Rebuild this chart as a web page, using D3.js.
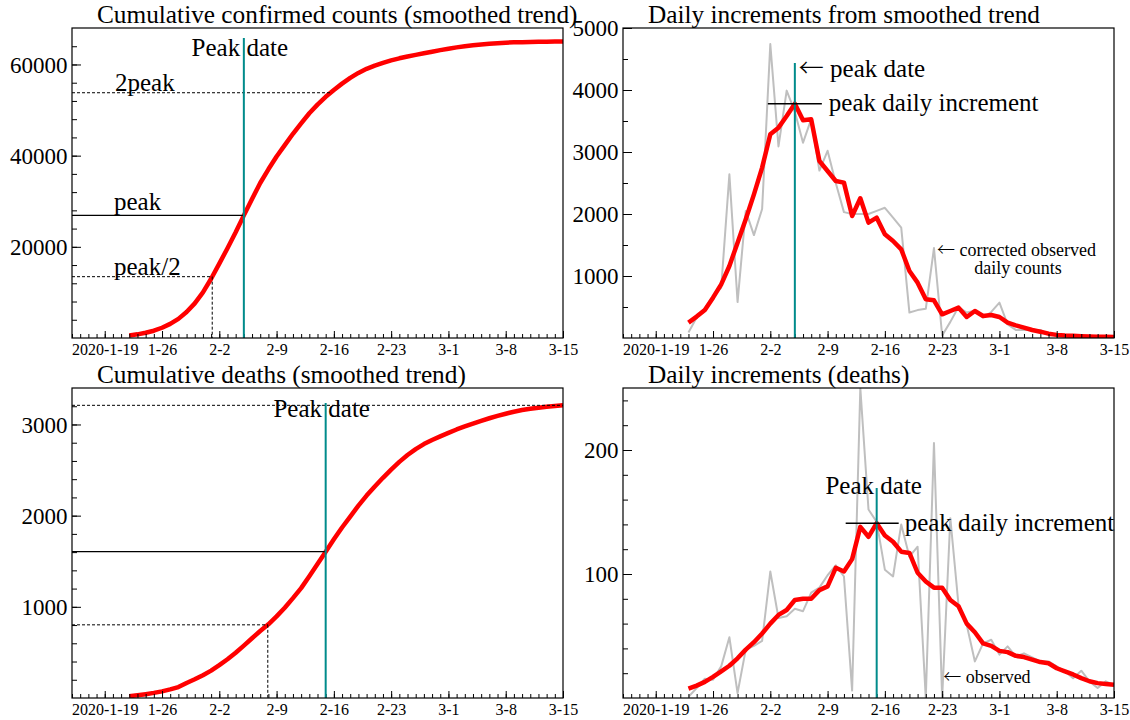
<!DOCTYPE html>
<html>
<head>
<meta charset="utf-8">
<script src="https://cdn.jsdelivr.net/npm/d3@7"></script>
<style>
  body { margin: 0; background: #fff; }
  svg { display: block; font-family: "Liberation Serif", "Times New Roman", serif; }
  .arrow { font-family: "Noto Sans CJK SC", "DejaVu Sans", sans-serif; font-weight: 300; }
</style>
</head>
<body>
<div id="chart"></div>
<script>
const parseDay = d3.timeParse("%Y-%m-%d");

// shared date axis
const axisStart = "2020-01-15";
const axisEnd = "2020-03-15";
const tickDates = ["2020-01-19", "2020-01-26", "2020-02-02", "2020-02-09", "2020-02-16",
                   "2020-02-23", "2020-03-01", "2020-03-08", "2020-03-15"];
const tickLabels = ["2020-1-19", "1-26", "2-2", "2-9", "2-16", "2-23", "3-1", "3-8", "3-15"];

// confirmed cases
const confirmedCumStart = "2020-01-22";
const confirmedCum = [550, 800, 1150, 1600, 2250, 3100, 4200, 5700, 7600, 10000, 13000, 16300,
  19700, 23200, 26900, 30500, 34000, 37000, 39800, 42300, 44800, 47100, 49300, 51200, 52900,
  54400, 55800, 57050, 58150, 59050, 59750, 60350, 60900, 61350, 61750, 62100, 62450, 62800,
  63150, 63450, 63750, 64000, 64200, 64400, 64550, 64680, 64780, 64850, 64900, 64940, 64970,
  65000, 65020, 65040];
const confirmedDailyStart = "2020-01-23";
const confirmedDaily = [248, 345, 452, 650, 866, 1161, 1538, 1914, 2317, 2748, 3285, 3393, 3580,
  3780, 3511, 3527, 2855, 2694, 2532, 2506, 1968, 2253, 1861, 1941, 1672, 1565, 1430, 1081, 893,
  624, 608, 382, 436, 490, 339, 436, 355, 371, 339, 248, 205, 167, 129, 102, 70, 50, 40, 35, 30,
  25, 22, 20, 18];
const confirmedObserved = [90, 330, 480, 680, 810, 2640, 580, 2050, 1660, 2080, 4740, 3090, 3990,
  3650, 3150, 3530, 2700, 3020, 2500, 2030, 2000, 2000, 2000, 2050, 2100, 1940, 1780, 410, 450,
  470, 1450, 40, 260, 500, 410, 440, 330, 420, 570, 220, 130, 130, 130, 130, 60, 40, 30, 30, 25,
  20, 20, 20, 20];
const confirmedPeakDate = "2020-02-05";
const confirmedSpikeDate = "2020-02-22";

// deaths
const deathsCumStart = "2020-01-22";
const deathsCum = [20, 30, 42, 56, 73, 94, 120, 165, 205, 250, 300, 360, 425, 497, 575, 655, 735,
  808, 895, 990, 1095, 1205, 1335, 1470, 1605, 1740, 1870, 1990, 2110, 2220, 2320, 2415, 2505,
  2590, 2665, 2730, 2785, 2830, 2870, 2908, 2945, 2978, 3010, 3040, 3068, 3094, 3118, 3140,
  3158, 3172, 3184, 3194, 3202, 3210];
const deathsDailyStart = "2020-01-23";
const deathsDaily = [7.5, 10, 13, 17, 21.5, 26, 32, 39, 45, 52, 60, 67, 71, 79, 80, 80, 87, 90,
  105, 102, 112, 138, 130, 141, 131, 126, 118, 117, 101, 94, 89, 89, 79, 74, 60, 53, 44, 42, 38,
  37, 34, 33, 31, 29, 28, 24, 21.5, 19, 16, 13.5, 12, 11.3, 10.7];
const deathsObserved = [1, 8, 15.6, 14.8, 25.5, 49, 4, 39, 42, 46, 102, 64.5, 66, 72, 70, 85, 89,
  99, 107, 98, 6, 250, 152, 142, 103.5, 98, 140, 114, 122, 0, 205.6, 0, 145, 75, 59, 29.5, 44,
  47, 35, 41.6, 33.5, 36, 32.7, 29.5, 29.5, 25.5, 21.5, 16, 22, 13.4, 8, 13.4, 10.7];
const deathsPeakDate = "2020-02-15";
const deathsObservedNote = "2020-02-23";

const RED = "#ff0000", GRAY = "#bfbfbf", TEAL = "#008b8b";

const svg = d3.select("#chart").append("svg")
    .attr("width", 1130)
    .attr("height", 720);
svg.append("rect").attr("width", 1130).attr("height", 720).attr("fill", "#fff");

function dayIndexed(start, values) {
    const s = parseDay(start);
    return values.map((v, i) => ({ date: d3.timeDay.offset(s, i), value: v }));
}

function valueOn(start, values, day) {
    const i = d3.timeDay.count(parseDay(start), parseDay(day));
    return values[i];
}

class Panel {

    constructor(left, top, right, bottom, yMax, yLabelStep, yMinorStep, title) {
        this.left = left;
        this.top = top;
        this.right = right;
        this.bottom = bottom;
        this.yMax = yMax;
        this.yLabelStep = yLabelStep;
        this.yMinorStep = yMinorStep;
        this.title = title;
    }

    initialize(id) {
        this.x = d3.scaleTime()
            .domain([parseDay(axisStart), parseDay(axisEnd)])
            .range([this.left, this.right]);
        this.y = d3.scaleLinear()
            .domain([0, this.yMax])
            .range([this.bottom, this.top]);

        const g = svg.append("g");
        this.g = g;

        svg.append("clipPath").attr("id", id)
            .append("rect")
            .attr("x", this.left).attr("y", this.top)
            .attr("width", this.right - this.left).attr("height", this.bottom - this.top);
        this.plot = g.append("g").attr("clip-path", `url(#${id})`);

        // daily ticks, then weekly labelled ones
        const xMinor = g.append("g")
            .attr("transform", `translate(0,${this.bottom})`)
            .call(d3.axisBottom(this.x).ticks(d3.timeDay.every(1)).tickSize(-4).tickSizeOuter(0).tickFormat(""));
        const xMajor = g.append("g")
            .attr("transform", `translate(0,${this.bottom})`)
            .call(d3.axisBottom(this.x)
                .tickValues(tickDates.map(parseDay))
                .tickSize(-7).tickSizeOuter(0).tickPadding(5.5)
                .tickFormat((d, i) => tickLabels[i]));
        xMajor.selectAll("text").attr("font-size", 16);

        const minorVals = d3.range(this.yMinorStep, this.yMax, this.yMinorStep);
        const labelVals = d3.range(this.yLabelStep, this.yMax + 1, this.yLabelStep);
        const yMinor = g.append("g")
            .attr("transform", `translate(${this.left},0)`)
            .call(d3.axisLeft(this.y).tickValues(minorVals).tickSize(-5).tickSizeOuter(0).tickFormat(""));
        const yMajor = g.append("g")
            .attr("transform", `translate(${this.left},0)`)
            .call(d3.axisLeft(this.y).tickValues(labelVals).tickSize(-9).tickSizeOuter(0).tickPadding(4.5)
                .tickFormat(d3.format("d")));
        yMajor.selectAll("text").attr("font-size", 23).attr("dy", "0.33em");

        [xMinor, xMajor, yMinor, yMajor].forEach(a => {
            a.attr("font-family", null);
            a.select(".domain").remove();
            a.selectAll("line").attr("stroke", "#000").attr("stroke-width", 1);
            a.selectAll("text").attr("fill", "#000");
        });

        g.append("text")
            .attr("x", this.left + 25)
            .attr("y", this.top - 5)
            .attr("font-size", 25.3)
            .text(this.title);
    }

    line(data, color, width) {
        this.plot.append("path")
            .datum(data)
            .attr("fill", "none")
            .attr("stroke", color)
            .attr("stroke-width", width)
            .attr("stroke-linejoin", "round")
            .attr("d", d3.line().x(d => this.x(d.date)).y(d => this.y(d.value)));
    }

    // x pixel where a rising series first reaches the target value
    crossing(data, target) {
        for (let i = 1; i < data.length; i++) {
            if (data[i].value >= target) {
                const a = data[i - 1], b = data[i];
                const t = (target - a.value) / (b.value - a.value);
                return this.x(a.date) + t * (this.x(b.date) - this.x(a.date));
            }
        }
        return this.right;
    }

    segment(x1, y1, x2, y2, color, width, dash) {
        this.g.append("line")
            .attr("x1", x1).attr("y1", y1).attr("x2", x2).attr("y2", y2)
            .attr("stroke", color)
            .attr("stroke-width", width)
            .attr("stroke-dasharray", dash || null);
    }

    label(x, y, text, size, anchor) {
        return this.g.append("text")
            .attr("x", x).attr("y", y)
            .attr("font-size", size)
            .attr("text-anchor", anchor || "start")
            .text(text);
    }

    // "← text" with a thin, full-width arrow
    arrowLabel(x, y, text, size) {
        const t = this.g.append("text")
            .attr("x", x).attr("y", y)
            .attr("font-size", size);
        t.append("tspan").attr("class", "arrow").text("\u2190");
        t.append("tspan").text(" " + text);
        return t;
    }

    frame() {
        this.g.append("rect")
            .attr("x", this.left).attr("y", this.top)
            .attr("width", this.right - this.left).attr("height", this.bottom - this.top)
            .attr("fill", "none")
            .attr("stroke", "#000")
            .attr("stroke-width", 1.2);
    }
}

// cumulative panel with peak / half-peak / double-peak guides
function cumulativePanel(panel, start, values, peakDate, tealTop, withNames, dateTextY) {
    const data = dayIndexed(start, values);
    const peak = valueOn(start, values, peakDate);
    const xp = panel.x(parseDay(peakDate));

    const xDouble = panel.crossing(data, 2 * peak);
    const xHalf = panel.crossing(data, peak / 2);
    panel.segment(panel.left, panel.y(2 * peak), xDouble, panel.y(2 * peak), "#000", 1, "3,2");
    panel.segment(panel.left, panel.y(peak / 2), xHalf, panel.y(peak / 2), "#000", 1, "3,2");
    panel.segment(xHalf, panel.y(peak / 2), xHalf, panel.bottom, "#000", 1, "3,2");
    panel.segment(panel.left, panel.y(peak), xp, panel.y(peak), "#000", 1.2);

    panel.line(data, RED, 4.5);
    panel.segment(xp, panel.top + tealTop, xp, panel.bottom, TEAL, 2);

    panel.label(xp - 4, panel.top + dateTextY, "Peak date", 25, "middle");
    if (withNames) {
        panel.label(panel.left + 43, panel.y(2 * peak) - 2, "2peak", 25);
        panel.label(panel.left + 42, panel.y(peak) - 5, "peak", 25);
        panel.label(panel.left + 42, panel.y(peak / 2) - 2, "peak/2", 25);
    }
    panel.frame();
}

// daily increments panel
function dailyPanel(panel, start, smooth, observed, peakDate, tealTop, barLeft, barRight) {
    const peak = valueOn(start, smooth, peakDate);
    const xp = panel.x(parseDay(peakDate));
    panel.line(dayIndexed(start, observed), GRAY, 2);
    panel.line(dayIndexed(start, smooth), RED, 4.5);
    panel.segment(xp, panel.top + tealTop, xp, panel.bottom, TEAL, 2);
    panel.segment(xp - barLeft, panel.y(peak), xp + barRight, panel.y(peak), "#000", 1.5);
    return { xp: xp, yp: panel.y(peak) };
}

// top left
const p1 = new Panel(72, 28, 563, 338, 68000, 20000, 4000, "Cumulative confirmed counts (smoothed trend)");
p1.initialize("clip1");
cumulativePanel(p1, confirmedCumStart, confirmedCum, confirmedPeakDate, 10, true, 28);

// top right
const p2 = new Panel(623, 28, 1114, 338, 5000, 1000, 500, "Daily increments from smoothed trend");
p2.initialize("clip2");
const pk2 = dailyPanel(p2, confirmedDailyStart, confirmedDaily, confirmedObserved, confirmedPeakDate, 35, 27, 27);
p2.arrowLabel(pk2.xp + 4, p2.top + 49, "peak date", 25);
p2.label(pk2.xp + 34, pk2.yp + 7, "peak daily increment", 25);
const xs2 = p2.x(parseDay(confirmedSpikeDate));
const ys2 = p2.y(valueOn(confirmedDailyStart, confirmedObserved, confirmedSpikeDate));
p2.arrowLabel(xs2 + 3, ys2 + 8, "corrected observed", 18);
p2.label(xs2 + 84, ys2 + 26, "daily counts", 18, "middle");
p2.frame();

// bottom left
const p3 = new Panel(72, 388, 563, 698, 3400, 1000, 200, "Cumulative deaths (smoothed trend)");
p3.initialize("clip3");
cumulativePanel(p3, deathsCumStart, deathsCum, deathsPeakDate, 15, false, 29);

// bottom right
const p4 = new Panel(623, 388, 1114, 698, 250, 100, 20, "Daily increments (deaths)");
p4.initialize("clip4");
const pk4 = dailyPanel(p4, deathsDailyStart, deathsDaily, deathsObserved, deathsPeakDate, 100, 31, 22);
p4.label(pk4.xp - 3, p4.top + 106, "Peak date", 25, "middle");
p4.label(pk4.xp + 28, pk4.yp + 8, "peak daily increment", 25);
p4.arrowLabel(p4.x(parseDay(deathsObservedNote)) + 1, p4.bottom - 15, "observed", 18);
p4.frame();
</script>
</body>
</html>
